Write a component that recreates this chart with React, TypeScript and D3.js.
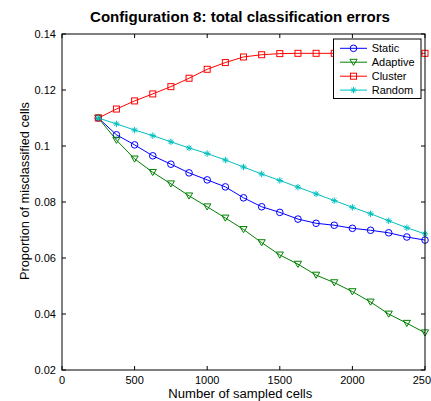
import React from "react";
import * as d3 from "d3";

const xs = [250, 375, 500, 625, 750, 875, 1000, 1125, 1250, 1375, 1500, 1625, 1750, 1875, 2000, 2125, 2250, 2375, 2500];
const staticVals = [0.110, 0.1040, 0.1004, 0.0965, 0.0935, 0.0904, 0.0879, 0.0854, 0.0815, 0.0783, 0.0763, 0.0739, 0.0724, 0.0717, 0.0706, 0.0699, 0.0690, 0.0675, 0.0664];
const adaptiveVals = [0.110, 0.1021, 0.0954, 0.0906, 0.0865, 0.0822, 0.0783, 0.0743, 0.0702, 0.0655, 0.0611, 0.0578, 0.0539, 0.0512, 0.0480, 0.0443, 0.0400, 0.0367, 0.0333];
const clusterVals = [0.110, 0.1132, 0.1161, 0.1186, 0.1212, 0.1242, 0.1274, 0.1298, 0.1318, 0.1326, 0.1330, 0.1331, 0.1331, 0.1331, 0.1331, 0.1331, 0.1331, 0.1331, 0.1331];
const randomVals = [0.110, 0.1079, 0.1057, 0.1037, 0.1015, 0.0993, 0.0973, 0.0950, 0.0925, 0.0900, 0.0877, 0.0853, 0.0829, 0.0805, 0.0781, 0.0758, 0.0733, 0.0708, 0.0686];

const seriesNames = ["Static", "Adaptive", "Cluster", "Random"];
const seriesColors = ["#0000ff", "#008000", "#ff0000", "#00bfbf"];
const seriesMarkers = ["circle", "triangle", "square", "star"];
const seriesValues = [staticVals, adaptiveVals, clusterVals, randomVals];

const xTicks = [0, 500, 1000, 1500, 2000, 2500];
const yTicks = [0.02, 0.04, 0.06, 0.08, 0.1, 0.12, 0.14];
const yTickLabels = ["0.02", "0.04", "0.06", "0.08", "0.1", "0.12", "0.14"];

const W = 431, H = 401;
const L = 62, R = 425, T = 34, B = 370;
const FONT = "'Liberation Sans', Arial, Helvetica, sans-serif";

function Marker({ type, x, y, color }: { type: string; x: number; y: number; color: string }) {
  if (type === "circle") return <circle cx={x} cy={y} r={3.3} fill="none" stroke={color} strokeWidth={1} />;
  if (type === "square") return <rect x={x - 3} y={y - 3} width={6} height={6} fill="none" stroke={color} strokeWidth={1} />;
  if (type === "triangle") {
    const s = 3.6;
    return <path d={`M${x - s},${y - s * 0.8} L${x + s},${y - s * 0.8} L${x},${y + s * 0.9} Z`} fill="none" stroke={color} strokeWidth={1} />;
  }
  const s = 3.2;
  const d = `M${x - s},${y} L${x + s},${y} M${x},${y - s} L${x},${y + s} M${x - s * 0.7},${y - s * 0.7} L${x + s * 0.7},${y + s * 0.7} M${x - s * 0.7},${y + s * 0.7} L${x + s * 0.7},${y - s * 0.7}`;
  return <path d={d} fill="none" stroke={color} strokeWidth={1} />;
}

export default function App() {
  const x = d3.scaleLinear().domain([0, 2500]).range([L, R]);
  const y = d3.scaleLinear().domain([0.02, 0.14]).range([B, T]);
  const line = d3.line<number>().x((_, i) => x(xs[i])).y((d) => y(d));
  const tl = 4;

  const legX = 333.5, legY = 39, legW = 87.5, legH = 59.5;
  const rowY = [48.3, 62.2, 76.2, 90.1];

  return (
    <svg width={W} height={H} style={{ position: "absolute", left: 0, top: 0, background: "#fff" }} fontFamily={FONT}>
      <rect x={0} y={0} width={W} height={H} fill="#fff" />
      <text x={240} y={22} textAnchor="middle" fontSize={14} fontWeight="bold" textLength={300} lengthAdjust="spacingAndGlyphs">Configuration 8: total classification errors</text>

      {seriesValues.map((vals, si) => (
        <g key={si}>
          <path d={line(vals) || ""} fill="none" stroke={seriesColors[si]} strokeWidth={1} />
          {vals.map((v, i) => (
            <Marker key={i} type={seriesMarkers[si]} x={x(xs[i])} y={y(v)} color={seriesColors[si]} />
          ))}
        </g>
      ))}

      {/* axes box */}
      <rect x={L} y={T} width={R - L} height={B - T} fill="none" stroke="#000" strokeWidth={1} />
      {xTicks.map((t, i) => (
        <g key={"xt" + i}>
          <line x1={x(t)} x2={x(t)} y1={B} y2={B - tl} stroke="#000" />
          <line x1={x(t)} x2={x(t)} y1={T} y2={T + tl} stroke="#000" />
          <text x={x(t)} y={384} textAnchor="middle" fontSize={11}>{t}</text>
        </g>
      ))}
      {yTicks.map((t, i) => (
        <g key={"yt" + i}>
          <line x1={L} x2={L + tl} y1={y(t)} y2={y(t)} stroke="#000" />
          <line x1={R} x2={R - tl} y1={y(t)} y2={y(t)} stroke="#000" />
          <text x={34.5} y={y(t) + 3.8} textAnchor="start" fontSize={11}>{yTickLabels[i]}</text>
        </g>
      ))}

      <text x={240.3} y={397.5} textAnchor="middle" fontSize={12} textLength={144} lengthAdjust="spacingAndGlyphs">Number of sampled cells</text>
      <text transform={`translate(28.8,191) rotate(-90)`} textAnchor="middle" fontSize={12} textLength={178} lengthAdjust="spacingAndGlyphs">Proportion of misclassified cells</text>

      {/* legend */}
      <rect x={legX} y={legY} width={legW} height={legH} fill="#fff" stroke="#000" strokeWidth={1} />
      {seriesNames.map((n, i) => (
        <g key={"lg" + i}>
          <line x1={340} x2={367} y1={rowY[i]} y2={rowY[i]} stroke={seriesColors[i]} strokeWidth={1} />
          <Marker type={seriesMarkers[i]} x={353.5} y={rowY[i]} color={seriesColors[i]} />
          <text x={371.7} y={rowY[i] + 3.6} fontSize={11}>{n}</text>
        </g>
      ))}
    </svg>
  );
}
